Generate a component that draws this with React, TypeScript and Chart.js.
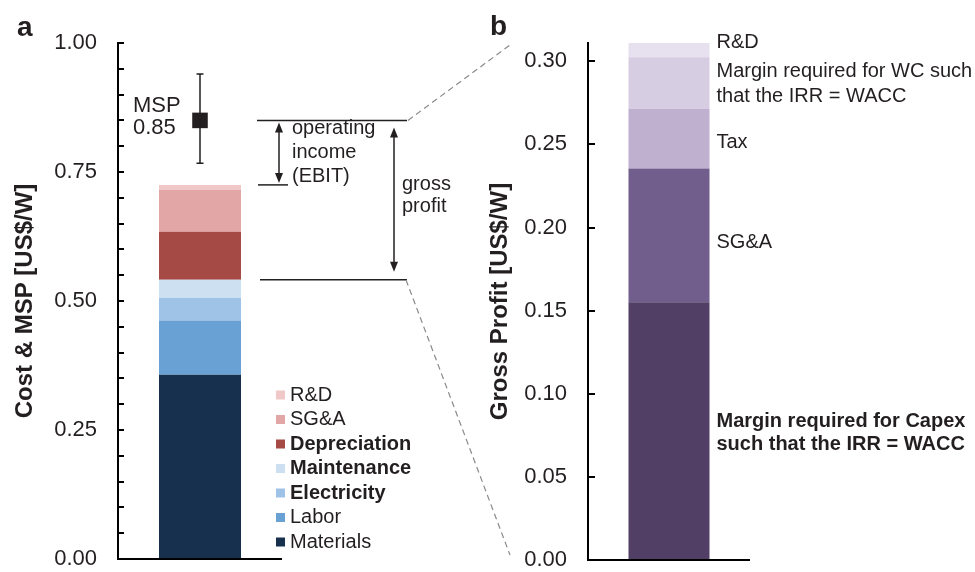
import React, { useEffect, useRef } from "react";
import { Chart, registerables } from "chart.js";

Chart.register(...registerables);

const FONT = "'Liberation Sans', Arial, Helvetica, sans-serif";
const INK = "#231f20";

// ---------- Panel a: cost & MSP ----------
const costCategories = ["Materials", "Labor", "Electricity", "Maintenance", "Depreciation", "SG&A", "R&D"];
const costValues = [0.357, 0.105, 0.044, 0.035, 0.093, 0.081, 0.01];
const costColors = ["#16304e", "#6aa1d5", "#9fc3e6", "#cde0f2", "#a54a45", "#e2a6a6", "#f0c8c8"];
const costBold = [false, false, true, true, true, false, false];
const cogsCount = 4; // Materials..Maintenance = cost of goods sold
const mspLabel = "MSP";
const mspValue = 0.85;
const mspLow = 0.767;
const mspHigh = 0.94;
const costTickLabels = [0, 0.25, 0.5, 0.75, 1.0];
const costTickMarks = [0.05, 0.1, 0.15, 0.2, 0.25, 0.3, 0.35, 0.4, 0.45, 0.5, 0.55, 0.6, 0.65, 0.7, 0.75, 0.8, 0.85, 0.9, 0.95, 1.0];
const ebitText = ["operating", "income", "(EBIT)"];
const grossText = ["gross", "profit"];

// ---------- Panel b: gross profit ----------
const profitCategories = ["Margin required for Capex such that the IRR = WACC", "SG&A", "Tax", "Margin required for WC such that the IRR = WACC", "R&D"];
const profitLabelLines = [
  ["Margin required for Capex", "such that the IRR = WACC"],
  ["SG&A"],
  ["Tax"],
  ["Margin required for WC such", "that the IRR = WACC"],
  ["R&D"],
];
const profitValues = [0.155, 0.0805, 0.036, 0.031, 0.0085];
const profitColors = ["#523f65", "#715e8d", "#bfb0d0", "#d7cde3", "#e7e1ef"];
const profitBold = [true, false, false, false, false];
const profitTicks = [0, 0.05, 0.1, 0.15, 0.2, 0.25, 0.3];
const profitMax = 0.311;

const B_LEFT = 470;

function font(size: number, bold = false) {
  return `${bold ? "bold " : ""}${size}px ${FONT}`;
}

function sum(a: number[]) {
  return a.reduce((s, v) => s + v, 0);
}

function hline(ctx: CanvasRenderingContext2D, x1: number, x2: number, y: number) {
  ctx.beginPath();
  ctx.moveTo(x1, y);
  ctx.lineTo(x2, y);
  ctx.stroke();
}

function dArrow(ctx: CanvasRenderingContext2D, x: number, y1: number, y2: number) {
  const h = 10;
  const w = 4;
  ctx.beginPath();
  ctx.moveTo(x, y1 + h - 1);
  ctx.lineTo(x, y2 - h + 1);
  ctx.stroke();
  ctx.beginPath();
  ctx.moveTo(x, y1);
  ctx.lineTo(x - w, y1 + h);
  ctx.lineTo(x + w, y1 + h);
  ctx.closePath();
  ctx.fill();
  ctx.beginPath();
  ctx.moveTo(x, y2);
  ctx.lineTo(x - w, y2 - h);
  ctx.lineTo(x + w, y2 - h);
  ctx.closePath();
  ctx.fill();
}

const fitY = (s: any) => {
  s.width = 118;
  s.paddingTop = 0;
  s.paddingBottom = 0;
};

export default function App() {
  const refA = useRef<HTMLCanvasElement>(null);
  const refB = useRef<HTMLCanvasElement>(null);

  useEffect(() => {
    Chart.defaults.font.family = FONT;
    Chart.defaults.color = INK;

    const labelDy = [2, 7, 4, 1, -7.5];
    const labelLh = [22.5, 24, 24, 25, 24];

    const profitPlugin = {
      id: "profitDecor",
      afterDraw(chart: any) {
        const { ctx, chartArea } = chart;
        const y = chart.scales.y;
        ctx.save();
        ctx.strokeStyle = "#000";
        ctx.lineWidth = 2;
        // x baseline
        hline(ctx, chartArea.left - 1, chartArea.right, chartArea.bottom);
        profitTicks.forEach((v) => {
          if (v === 0) return;
          const py = Math.round(y.getPixelForValue(v));
          hline(ctx, chartArea.left, chartArea.left + 7, py);
        });
        ctx.fillStyle = INK;
        ctx.textBaseline = "middle";
        ctx.textAlign = "left";
        profitValues.forEach((_, i) => {
          const el = chart.getDatasetMeta(i).data[0];
          const p = el.getProps(["x", "y", "base", "width"], true);
          const cy = (p.y + p.base) / 2 + labelDy[i];
          const lines = profitLabelLines[i];
          ctx.font = font(20, profitBold[i]);
          lines.forEach((t, k) => {
            ctx.fillText(t, p.x + p.width / 2 + 7, cy + (k - (lines.length - 1) / 2) * labelLh[i]);
          });
        });
        ctx.font = font(28, true);
        ctx.textBaseline = "alphabetic";
        ctx.fillText("b", 490 - B_LEFT, 35);
        ctx.restore();
      },
    };

    const chartB = new Chart(refB.current as HTMLCanvasElement, {
      type: "bar",
      data: {
        labels: [""],
        datasets: profitCategories.map((c, i) => ({
          label: c,
          data: [profitValues[i]],
          backgroundColor: profitColors[i],
          borderWidth: 0,
          barPercentage: 0.5,
          categoryPercentage: 1,
        })),
      },
      options: {
        animation: false,
        responsive: false,
        devicePixelRatio: 1,
        layout: { padding: { left: 0, top: 43, right: 225, bottom: 12 } },
        plugins: { legend: { display: false }, tooltip: { enabled: false } },
        scales: {
          x: {
            display: false,
            stacked: true,
          },
          y: {
            stacked: true,
            min: 0,
            max: profitMax,
            afterFit: fitY,
            afterBuildTicks: (s: any) => {
              s.ticks = profitTicks.map((value) => ({ value }));
            },
            grid: { display: false, drawTicks: false },
            border: { display: true, color: "#000", width: 2 },
            ticks: {
              padding: 21,
              color: INK,
              font: { size: 22 },
              callback: (v: any) => Number(v).toFixed(2),
            },
            title: {
              display: true,
              text: "Gross Profit [US$/W]",
              color: INK,
              font: { size: 24, weight: "bold" },
              padding: { top: 15.5, bottom: 0 },
            },
          },
        },
      } as any,
      plugins: [profitPlugin],
    });

    const costPlugin = {
      id: "costDecor",
      afterDraw(chart: any) {
        const { ctx, chartArea } = chart;
        const y = chart.scales.y;
        const L = chartArea.left;
        const R = chartArea.right;
        const Bt = chartArea.bottom;
        ctx.save();
        ctx.strokeStyle = "#000";
        ctx.lineWidth = 2;
        // x baseline
        hline(ctx, L - 1, R, Bt);
        // inward minor ticks
        costTickMarks.forEach((v) => {
          const py = Math.round(y.getPixelForValue(v));
          hline(ctx, L, L + 6, py);
        });
        // panel letter
        ctx.fillStyle = INK;
        ctx.font = font(28, true);
        ctx.textAlign = "left";
        ctx.textBaseline = "alphabetic";
        ctx.fillText("a", 17, 36);

        // MSP error bar
        const pt = chart.getDatasetMeta(costCategories.length).data[0];
        const px = pt.x;
        const yHi = y.getPixelForValue(mspHigh);
        const yLo = y.getPixelForValue(mspLow);
        const yMsp = y.getPixelForValue(mspValue);
        ctx.strokeStyle = INK;
        ctx.lineWidth = 1.5;
        ctx.beginPath();
        ctx.moveTo(px, yHi);
        ctx.lineTo(px, yLo);
        ctx.moveTo(px - 3.5, yHi);
        ctx.lineTo(px + 3.5, yHi);
        ctx.moveTo(px - 3.5, yLo);
        ctx.lineTo(px + 3.5, yLo);
        ctx.stroke();
        ctx.font = font(22);
        ctx.textBaseline = "middle";
        ctx.fillText(mspLabel, px - 67, yMsp - 14.5);
        ctx.fillText(mspValue.toFixed(2), px - 67, yMsp + 7.5);

        // annotation lines
        const total = sum(costValues);
        const cogs = sum(costValues.slice(0, cogsCount));
        const yTot = y.getPixelForValue(total);
        const yCogs = y.getPixelForValue(cogs);
        ctx.lineWidth = 1.5;
        hline(ctx, R - 25, R + 125, yMsp);
        hline(ctx, R - 24, R + 6, yTot);
        hline(ctx, R - 22, R + 125, yCogs);
        dArrow(ctx, R - 3, yMsp + 2, yTot - 2);
        dArrow(ctx, R + 112, yMsp + 7, yCogs - 8);
        ctx.font = font(20);
        ebitText.forEach((t, k) => ctx.fillText(t, R + 10, yMsp + 8 + k * 24));
        const mid = (yMsp + yCogs) / 2;
        grossText.forEach((t, k) => ctx.fillText(t, R + 120, mid - 16 + k * 22));

        // legend (reversed order)
        const n = costCategories.length;
        for (let i = n - 1; i >= 0; i--) {
          const r = n - 1 - i;
          const ry = Bt - 164 + r * 24.5;
          ctx.fillStyle = costColors[i];
          ctx.fillRect(R - 6, ry - 4.5, 9, 9);
          ctx.fillStyle = INK;
          ctx.font = font(20, costBold[i]);
          ctx.fillText(costCategories[i], R + 8, ry);
        }

        // dashed connectors to panel b
        const yb = chartB.scales.y as any;
        ctx.setLineDash([6, 4]);
        ctx.strokeStyle = "#8a8a8a";
        ctx.lineWidth = 1.2;
        ctx.beginPath();
        ctx.moveTo(R + 126, yMsp);
        ctx.lineTo(510, yb.getPixelForValue(profitMax) + 2);
        ctx.moveTo(R + 124, yCogs);
        ctx.lineTo(510, yb.getPixelForValue(0) - 5);
        ctx.stroke();
        ctx.restore();
      },
    };

    const chartA = new Chart(refA.current as HTMLCanvasElement, {
      type: "bar",
      data: {
        labels: [""],
        datasets: [
          ...costCategories.map((c, i) => ({
            type: "bar" as const,
            label: c,
            data: [costValues[i]],
            backgroundColor: costColors[i],
            borderWidth: 0,
            barPercentage: 0.5,
            categoryPercentage: 1,
          })),
          {
            type: "line" as const,
            label: mspLabel,
            data: [mspValue],
            showLine: false,
            pointStyle: "rect",
            pointRadius: 11,
            pointBorderWidth: 0,
            pointBackgroundColor: INK,
            backgroundColor: INK,
            borderColor: INK,
            order: -1,
          },
        ],
      },
      options: {
        animation: false,
        responsive: false,
        devicePixelRatio: 1,
        layout: { padding: { left: 0, top: 43, right: 693, bottom: 13 } },
        plugins: { legend: { display: false }, tooltip: { enabled: false } },
        scales: {
          x: {
            display: false,
            stacked: true,
          },
          y: {
            stacked: true,
            min: 0,
            max: 1,
            afterFit: fitY,
            afterBuildTicks: (s: any) => {
              s.ticks = costTickLabels.map((value) => ({ value }));
            },
            grid: { display: false, drawTicks: false },
            border: { display: true, color: "#000", width: 2 },
            ticks: {
              padding: 21,
              color: INK,
              font: { size: 22 },
              callback: (v: any) => Number(v).toFixed(2),
            },
            title: {
              display: true,
              text: "Cost & MSP [US$/W]",
              color: INK,
              font: { size: 24, weight: "bold" },
              padding: { top: 10.5, bottom: 0 },
            },
          },
        },
      } as any,
      plugins: [costPlugin],
    });

    return () => {
      chartA.destroy();
      chartB.destroy();
    };
  }, []);

  return (
    <div style={{ position: "absolute", left: 0, top: 0, width: 975, height: 572, background: "#fff", overflow: "hidden" }}>
      <canvas ref={refA} width={975} height={572} style={{ position: "absolute", left: 0, top: 0, width: 975, height: 572 }} />
      <canvas ref={refB} width={505} height={572} style={{ position: "absolute", left: B_LEFT, top: 0, width: 505, height: 572 }} />
    </div>
  );
}
